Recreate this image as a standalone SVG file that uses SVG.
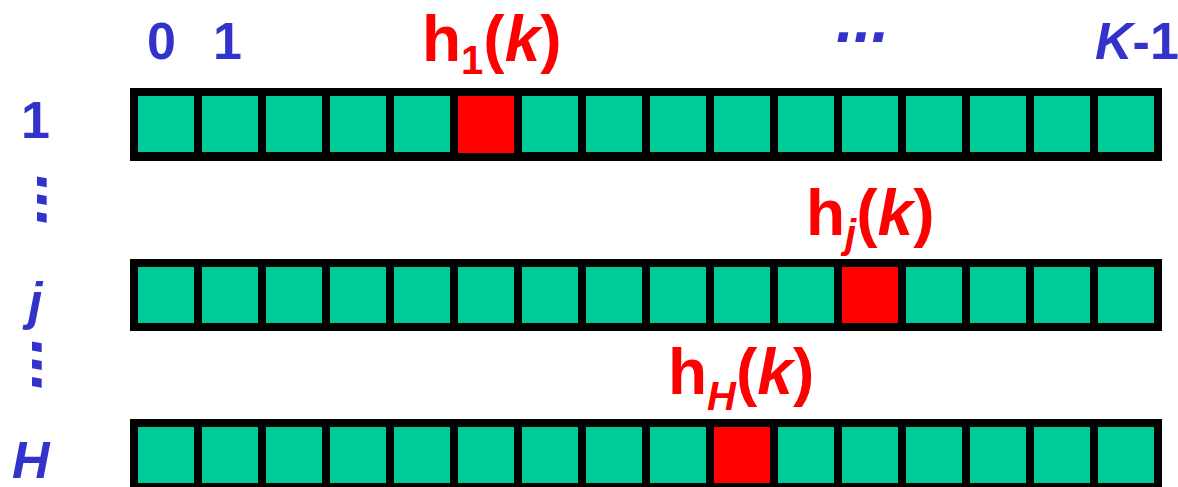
<svg xmlns="http://www.w3.org/2000/svg" width="1178" height="487" viewBox="0 0 1178 487">
<defs>
<style>
.frame{fill:#000}
.c{fill:#00CC99}
.r{fill:#FF0000}
.lbl{font-family:"Liberation Sans",Arial,sans-serif;font-weight:bold;font-size:52px;fill:#3333CC}
.it{font-style:italic}
.dots{font-size:64px}
.h{font-family:"Liberation Sans",Arial,sans-serif;font-weight:bold;font-size:64px;fill:#FF0000}
.sub{font-size:40px}
</style>
<g id="cells16">
<rect class="c" x="0" y="0" width="56" height="56"/>
<rect class="c" x="64" y="0" width="56" height="56"/>
<rect class="c" x="128" y="0" width="56" height="56"/>
<rect class="c" x="192" y="0" width="56" height="56"/>
<rect class="c" x="256" y="0" width="56" height="56"/>
<rect class="c" x="320" y="0" width="56" height="56"/>
<rect class="c" x="384" y="0" width="56" height="56"/>
<rect class="c" x="448" y="0" width="56" height="56"/>
<rect class="c" x="512" y="0" width="56" height="56"/>
<rect class="c" x="576" y="0" width="56" height="56"/>
<rect class="c" x="640" y="0" width="56" height="56"/>
<rect class="c" x="704" y="0" width="56" height="56"/>
<rect class="c" x="768" y="0" width="56" height="56"/>
<rect class="c" x="832" y="0" width="56" height="56"/>
<rect class="c" x="896" y="0" width="56" height="56"/>
<rect class="c" x="960" y="0" width="56" height="56"/>
</g>
</defs>
<rect width="1178" height="487" fill="#fff"/>

<g id="col-labels">
<text class="lbl" x="147" y="59">0</text>
<text class="lbl" x="213" y="59">1</text>
<text class="lbl it dots" x="836" y="42">...</text>
<text class="lbl" x="1095" y="59"><tspan class="it">K</tspan>-1</text>
</g>

<g id="row-labels">
<text class="lbl" x="21" y="138">1</text>
<text class="lbl it dots" transform="translate(37,175) rotate(90)" x="0" y="0">...</text>
<text class="lbl it" x="28" y="319">j</text>
<text class="lbl it dots" transform="translate(32,340) rotate(90)" x="0" y="0">...</text>
<text class="lbl it" x="12" y="478">H</text>
</g>

<g id="row-1">
<rect class="frame" x="130" y="88" width="1032" height="73"/>
<use href="#cells16" x="138" y="96"/>
<rect class="r" x="458" y="96" width="56" height="57"/>
</g>

<g id="row-j">
<rect class="frame" x="130" y="259" width="1032" height="72"/>
<use href="#cells16" x="138" y="267"/>
<rect class="r" x="842" y="267" width="56" height="56"/>
</g>

<g id="row-H">
<rect class="frame" x="130" y="419" width="1032" height="72"/>
<use href="#cells16" x="138" y="427"/>
<rect class="r" x="714" y="427" width="56" height="56"/>
</g>

<g id="hash-labels">
<text class="h" x="422" y="61">h<tspan class="sub" dy="13">1</tspan><tspan dy="-13">(</tspan><tspan class="it">k</tspan>)</text>
<text class="h" x="806" y="235">h<tspan class="sub it" dy="13">j</tspan><tspan dy="-13">(</tspan><tspan class="it">k</tspan>)</text>
<text class="h" x="668" y="394">h<tspan class="sub it" dy="16">H</tspan><tspan dy="-16">(</tspan><tspan class="it">k</tspan>)</text>
</g>

<g id="connectors"/>
</svg>
